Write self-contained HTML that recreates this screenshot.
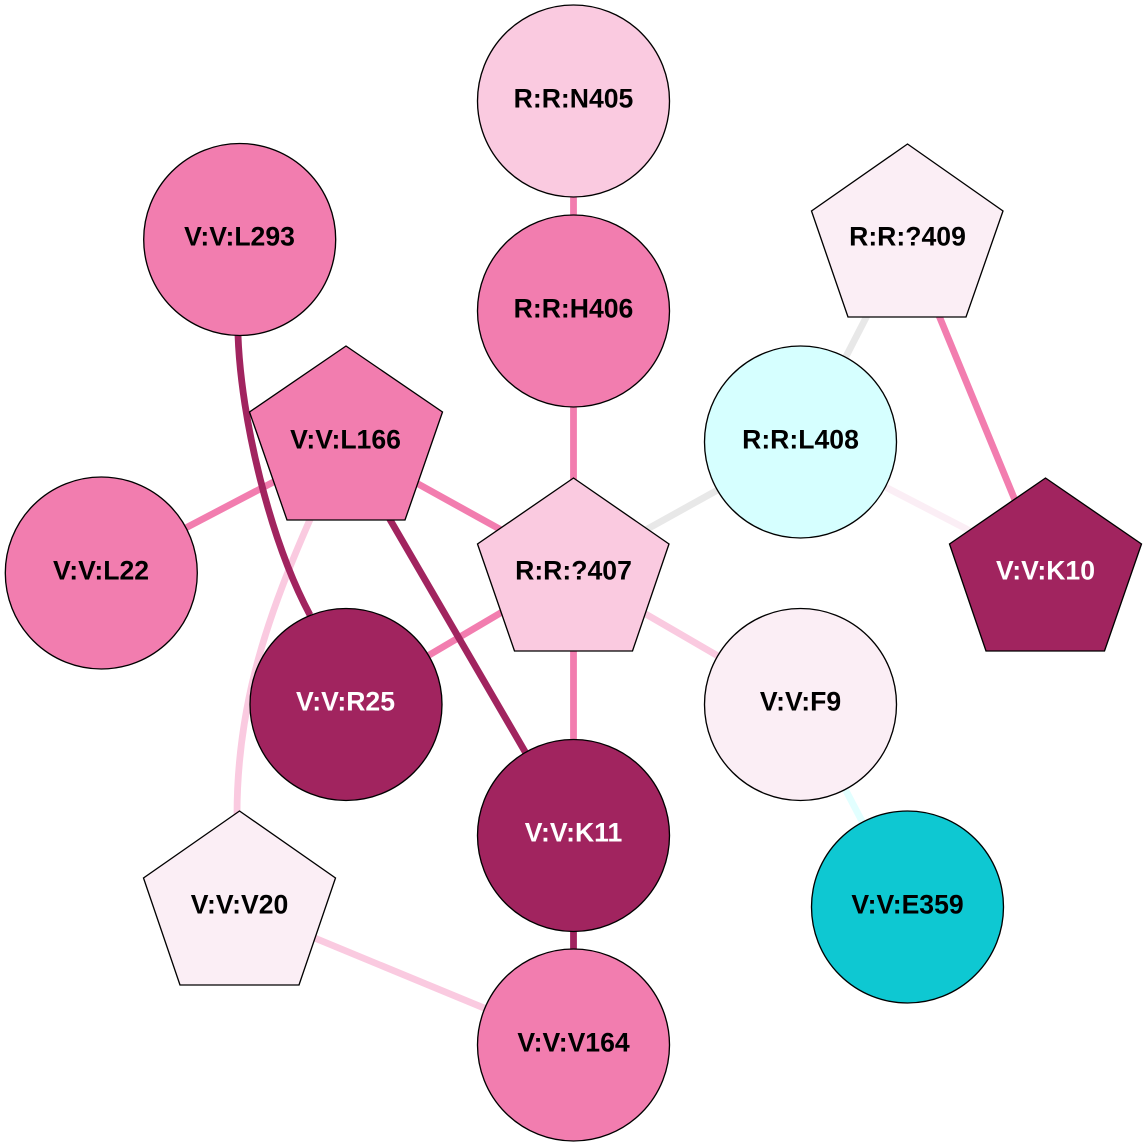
<!DOCTYPE html>
<html>
<head>
<meta charset="utf-8">
<style>
html,body{margin:0;padding:0;background:#fff;width:1147px;height:1147px;overflow:hidden}
svg{display:block}
text{font-family:"Liberation Sans",Arial,sans-serif;font-weight:bold;font-size:26.6px;text-anchor:middle}
.n{stroke:#000;stroke-width:1.33}
.e{fill:none;stroke-width:6.8}
</style>
</head>
<body>
<svg width="1147" height="1147" viewBox="0 0 1147 1147">
<g class="edges">
<path class="e" d="M573.500 101L573.500 311" stroke="#f27daf"/>
<path class="e" d="M573.500 311L573.500 570" stroke="#f27daf"/>
<path class="e" d="M573.500 570L573.500 835" stroke="#f27daf"/>
<path class="e" d="M573.500 835L573.500 1045" stroke="#a1245f"/>
<path class="e" d="M907 238L802 442" stroke="#e8e8e8"/>
<path class="e" d="M800.500 444L573.500 570" stroke="#e8e8e8"/>
<path class="e" d="M800.500 443L1045.500 570" stroke="#fbeef5"/>
<path class="e" d="M907 238L1045 573" stroke="#f27daf"/>
<path class="e" d="M346 444L573.500 570" stroke="#f27daf"/>
<path class="e" d="M346 444L101.500 572" stroke="#f27daf"/>
<path class="e" d="M346 704L573.500 570" stroke="#f27daf"/>
<path class="e" d="M573.500 572L800.500 704" stroke="#facae0"/>
<path class="e" d="M800.500 704L907 907" stroke="#e2ffff"/>
<path class="e" d="M312 515C270 610 237 700 237 815" stroke="#facae0"/>
<path class="e" d="M239.500 907L573.500 1045" stroke="#facae0"/>
<path class="e" d="M346 444L573.500 835" stroke="#a1245f"/>
<path class="e" d="M238 335C241 420 270 540 310 615" stroke="#a1245f"/>
</g>
<g class="nodes">
<circle class="n" cx="573.500" cy="101" r="96" fill="#facae0"/>
<circle class="n" cx="573.500" cy="311" r="96" fill="#f27daf"/>
<circle class="n" cx="239.700" cy="239.500" r="96" fill="#f27daf"/>
<circle class="n" cx="800.500" cy="442" r="96" fill="#d6ffff"/>
<circle class="n" cx="101.300" cy="573" r="96" fill="#f27daf"/>
<circle class="n" cx="346" cy="704.500" r="96" fill="#a1245f"/>
<circle class="n" cx="800.500" cy="704.500" r="96" fill="#fbeef5"/>
<circle class="n" cx="573.500" cy="835.500" r="96" fill="#a1245f"/>
<circle class="n" cx="907.500" cy="907" r="96" fill="#0ec8d2"/>
<circle class="n" cx="573.500" cy="1045" r="96" fill="#f27daf"/>
<polygon class="n" points="907.500,144 1003,211 966,317 848,317 811.500,211" fill="#fbeef5"/>
<polygon class="n" points="346,346 442.500,412 405,520 287,520 249.500,412" fill="#f27daf"/>
<polygon class="n" points="573.500,478 669,544 632.500,651 514.500,651 477.500,544" fill="#facae0"/>
<polygon class="n" points="1045.500,478 1141.500,544 1104.500,651 986,651 949.500,544" fill="#a1245f"/>
<polygon class="n" points="239.500,811 335.500,878 299,985 180,985 143.500,878" fill="#fbeef5"/>
</g>
<g class="labels">
<text x="573.500" y="107.400">R:R:N405</text>
<text x="573.500" y="317.400">R:R:H406</text>
<text x="239.500" y="245.400">V:V:L293</text>
<text x="907.500" y="245.400">R:R:?409</text>
<text x="345.500" y="448.400">V:V:L166</text>
<text x="800.500" y="448.400">R:R:L408</text>
<text x="573.500" y="579.400">R:R:?407</text>
<text x="101" y="579.400">V:V:L22</text>
<text x="1045.500" y="579.400" fill="#fff">V:V:K10</text>
<text x="345.500" y="710.400" fill="#fff">V:V:R25</text>
<text x="800.500" y="710.400">V:V:F9</text>
<text x="573.500" y="841.400" fill="#fff">V:V:K11</text>
<text x="239.500" y="913.400">V:V:V20</text>
<text x="907.500" y="913.400">V:V:E359</text>
<text x="573.500" y="1051.400">V:V:V164</text>
</g>
</svg>
</body>
</html>
